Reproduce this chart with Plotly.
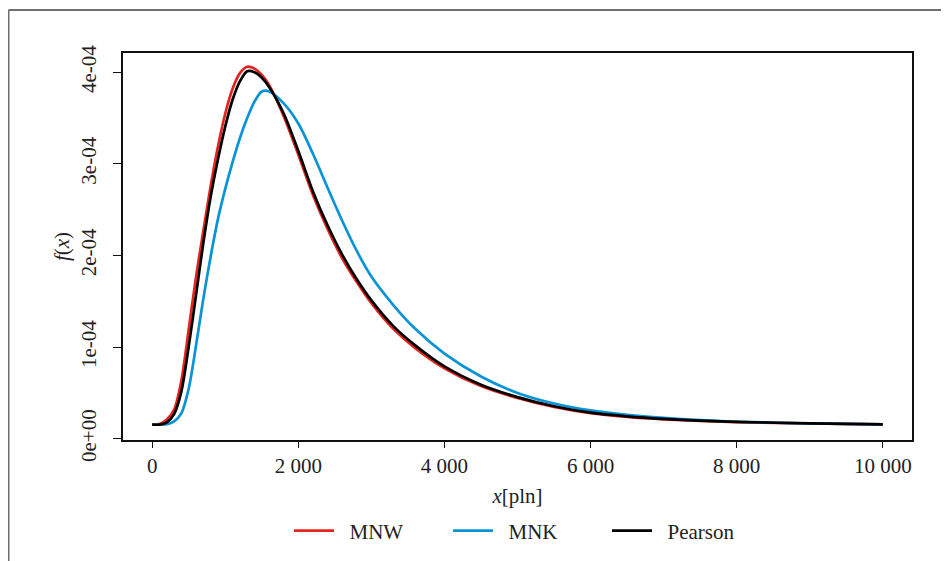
import plotly.graph_objects as go

# Gęstości rozkładu dochodów, wartości f(x) w jednostkach 1e-4
x_pln = [0, 100, 200, 300, 400, 500, 600, 700, 800, 900, 1000, 1100, 1200, 1300,
         1400, 1500, 1600, 1800, 2000, 2200, 2400, 2600, 2800, 3000, 3300, 3600,
         4000, 4500, 5000, 5500, 6000, 6500, 7000, 7500, 8000, 9000, 10000]

mnw = [0.155, 0.16, 0.21, 0.32, 0.64, 1.20, 1.77, 2.27, 2.76, 3.19, 3.55, 3.82,
       3.99, 4.06, 4.04, 3.97, 3.86, 3.52, 3.10, 2.66, 2.29, 1.97, 1.71, 1.48,
       1.20, 0.99, 0.77, 0.575, 0.445, 0.347, 0.28, 0.24, 0.213, 0.195, 0.183,
       0.167, 0.158]

mnk = [0.155, 0.155, 0.16, 0.19, 0.28, 0.55, 1.02, 1.53, 1.99, 2.40, 2.73, 3.02,
       3.28, 3.50, 3.68, 3.79, 3.79, 3.66, 3.44, 3.11, 2.74, 2.38, 2.05, 1.77,
       1.46, 1.20, 0.93, 0.68, 0.50, 0.385, 0.31, 0.262, 0.228, 0.203, 0.186,
       0.168, 0.158]

pearson = [0.155, 0.155, 0.18, 0.27, 0.52, 1.01, 1.57, 2.14, 2.64, 3.05, 3.41,
           3.70, 3.90, 4.01, 4.00, 3.94, 3.84, 3.55, 3.14, 2.70, 2.33, 2.01,
           1.74, 1.51, 1.23, 1.02, 0.79, 0.59, 0.455, 0.355, 0.285, 0.245, 0.217,
           0.198, 0.185, 0.168, 0.158]

x_ticks = [0, 2000, 4000, 6000, 8000, 10000]
x_labels = ["0", "2 000", "4 000", "6 000", "8 000", "10 000"]
y_ticks = [0, 1e-4, 2e-4, 3e-4, 4e-4]
y_labels = ["0e+00", "1e-04", "2e-04", "3e-04", "4e-04"]

series = [("MNW", mnw, "#e5231f"), ("MNK", mnk, "#0a93d7"), ("Pearson", pearson, "#000000")]

fig = go.Figure()
for name, vals, col in series:
    fig.add_scatter(
        x=x_pln, y=[v * 1e-4 for v in vals], name="\u00a0\u00a0" + name, mode="lines",
        line=dict(color=col, width=2.7, shape="spline", smoothing=0.8),
    )

font = "Liberation Serif, Times New Roman, serif"
# strona ma 8 px marginesu body, więc figura jest o 8 px mniejsza
fig.update_layout(
    width=941, height=553,
    margin=dict(l=115, r=37, t=45, b=121, autoexpand=False),
    paper_bgcolor="white", plot_bgcolor="white",
    font=dict(family=font, size=21, color="#222222"),
    showlegend=True,
    legend=dict(orientation="h", x=0.5127, xanchor="center", y=-0.235, yanchor="middle",
                font=dict(size=21), entrywidth=104, itemwidth=40, tracegroupgap=0),
    xaxis=dict(
        range=[-400, 10400], tickvals=x_ticks, ticktext=x_labels,
        showgrid=False, zeroline=False, showline=True, mirror=True,
        linecolor="#111111", linewidth=1.5, ticks="outside", ticklen=6,
        tickcolor="#111111", tickwidth=1.2, ticklabelstandoff=0,
        title=dict(text="<i>x</i>[pln]", standoff=11, font=dict(size=21)),
    ),
    yaxis=dict(
        range=[-1.3e-6, 4.21e-4], tickvals=y_ticks, ticktext=y_labels,
        tickangle=-90, showgrid=False, zeroline=False, showline=True, mirror=True,
        linecolor="#111111", linewidth=1.5, ticks="outside", ticklen=8,
        tickcolor="#111111", tickwidth=1.2, ticklabelstandoff=9,
        title=dict(text="<i>f</i>(<i>x</i>)", standoff=1, font=dict(size=21)),
    ),
)

# zewnętrzna ramka rysunku (ucięta z prawej i od dołu)
fig.add_shape(type="line", xref="paper", yref="paper", x0=-0.1451, x1=1.1,
              y0=1.111, y1=1.111, line=dict(color="#707070", width=2))
fig.add_shape(type="line", xref="paper", yref="paper", x0=-0.1451, x1=-0.1451,
              y0=1.111, y1=-0.35, line=dict(color="#707070", width=2))

fig.write_html("out.html")
